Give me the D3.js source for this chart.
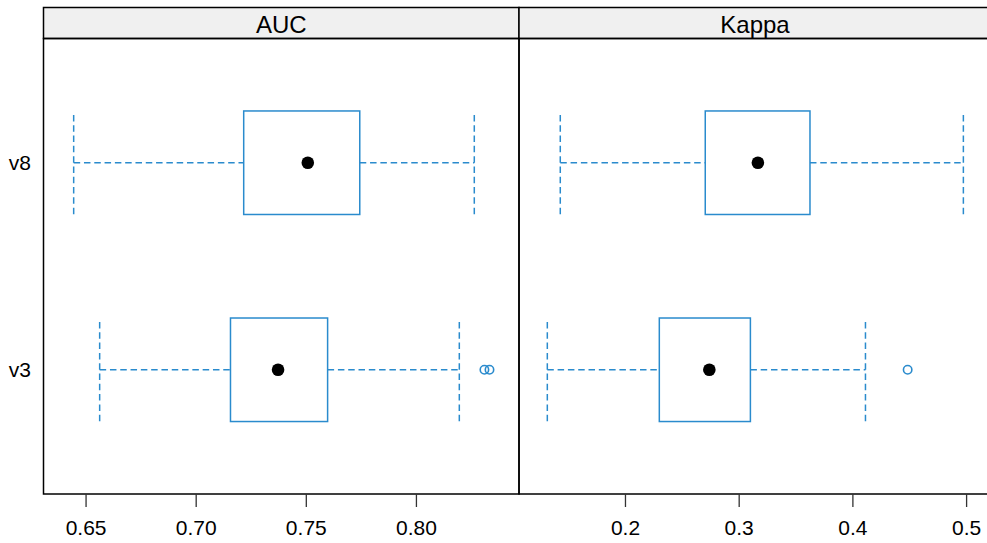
<!DOCTYPE html>
<html>
<head>
<meta charset="utf-8">
<script src="https://cdn.jsdelivr.net/npm/d3@7/dist/d3.min.js"></script>
<style>
  html, body { margin: 0; padding: 0; background: #fff; }
  svg { display: block; font-family: "Liberation Sans", Arial, sans-serif; }
</style>
</head>
<body>
<svg id="chart" width="987" height="543"></svg>
<script>
// Resampled model metrics: five-number box summaries per model, per metric
const models = ["v3", "v8"];

// [lower whisker, Q1, median, Q3, upper whisker] in model order
const aucStats = [
  [0.6564, 0.7158, 0.7374, 0.7599, 0.8197],
  [0.6446, 0.7218, 0.7509, 0.7745, 0.8265]
];
const aucOutliers = [[0.8311, 0.8334], []];

const kappaStats = [
  [0.1317, 0.2302, 0.2742, 0.3103, 0.4115],
  [0.1431, 0.2706, 0.3169, 0.3627, 0.4976]
];
const kappaOutliers = [[0.4486], []];

const aucTicks = [0.65, 0.70, 0.75, 0.80];
const kappaTicks = [0.2, 0.3, 0.4, 0.5];

const panels = [
  { title: "AUC", stats: aucStats, outliers: aucOutliers, ticks: aucTicks,
    domain: [0.6309, 0.8468], fmt: d3.format(".2f"), x0: 43.5, x1: 519 },
  { title: "Kappa", stats: kappaStats, outliers: kappaOutliers, ticks: kappaTicks,
    domain: [0.1068, 0.5219], fmt: d3.format(".1f"), x0: 519, x1: 991 }
];

const svg = d3.select("#chart");
const stripTop = 7.5, stripBottom = 38.5, panelBottom = 494;
const boxCol = "#2a8bcd";

const y = d3.scalePoint().domain(models).range([panelBottom, stripBottom]).padding(0.6);
const boxHalf = y.step() * 0.25;

panels.forEach(p => {
  const x = d3.scaleLinear().domain(p.domain).range([p.x0, p.x1]);
  const g = svg.append("g");

  // strip
  g.append("rect")
    .attr("x", p.x0).attr("y", stripTop)
    .attr("width", p.x1 - p.x0).attr("height", stripBottom - stripTop)
    .attr("fill", "#f0f0f0").attr("stroke", "#000").attr("stroke-width", 1.5);
  g.append("text")
    .attr("x", (p.x0 + p.x1) / 2).attr("y", 33)
    .attr("text-anchor", "middle").attr("font-size", 24).attr("fill", "#000")
    .text(p.title);

  // panel frame
  g.append("rect")
    .attr("x", p.x0).attr("y", stripBottom)
    .attr("width", p.x1 - p.x0).attr("height", panelBottom - stripBottom)
    .attr("fill", "none").attr("stroke", "#000").attr("stroke-width", 1.5);

  // bottom axis
  const axis = d3.axisBottom(x).tickValues(p.ticks).tickFormat(p.fmt)
    .tickSize(13).tickPadding(13);
  const ag = g.append("g").attr("transform", `translate(0,${panelBottom})`).call(axis);
  ag.select(".domain").remove();
  ag.selectAll(".tick line").attr("stroke", "#333").attr("stroke-width", 1.3);
  ag.selectAll(".tick text").attr("font-size", 21).attr("fill", "#000")
    .attr("font-family", "Liberation Sans, Arial, sans-serif");

  p.stats.forEach((s, i) => {
    const cy = y(models[i]);
    const [lo, q1, med, q3, hi] = s;
    const dash = "6.5,3.8";

    // whiskers
    g.append("line").attr("x1", x(lo)).attr("x2", x(q1)).attr("y1", cy).attr("y2", cy)
      .attr("stroke", boxCol).attr("stroke-width", 1.5).attr("stroke-dasharray", dash);
    g.append("line").attr("x1", x(q3)).attr("x2", x(hi)).attr("y1", cy).attr("y2", cy)
      .attr("stroke", boxCol).attr("stroke-width", 1.5).attr("stroke-dasharray", dash);
    [lo, hi].forEach(v => {
      g.append("line").attr("x1", x(v)).attr("x2", x(v))
        .attr("y1", cy - boxHalf + 4).attr("y2", cy + boxHalf)
        .attr("stroke", boxCol).attr("stroke-width", 1.5).attr("stroke-dasharray", dash);
    });

    // box
    g.append("rect")
      .attr("x", x(q1)).attr("y", cy - boxHalf)
      .attr("width", x(q3) - x(q1)).attr("height", boxHalf * 2)
      .attr("fill", "none").attr("stroke", boxCol).attr("stroke-width", 1.5);

    // median dot
    g.append("circle").attr("cx", x(med)).attr("cy", cy).attr("r", 6.3).attr("fill", "#000");

    // outliers
    p.outliers[i].forEach(v => {
      g.append("circle").attr("cx", x(v)).attr("cy", cy).attr("r", 4.2)
        .attr("fill", "none").attr("stroke", boxCol).attr("stroke-width", 1.6);
    });
  });
});

// model labels on the left
svg.append("g").selectAll("text").data(models).join("text")
  .attr("x", 31).attr("y", d => y(d) + 7.5)
  .attr("text-anchor", "end").attr("font-size", 21).attr("fill", "#000")
  .text(d => d);
</script>
</body>
</html>
